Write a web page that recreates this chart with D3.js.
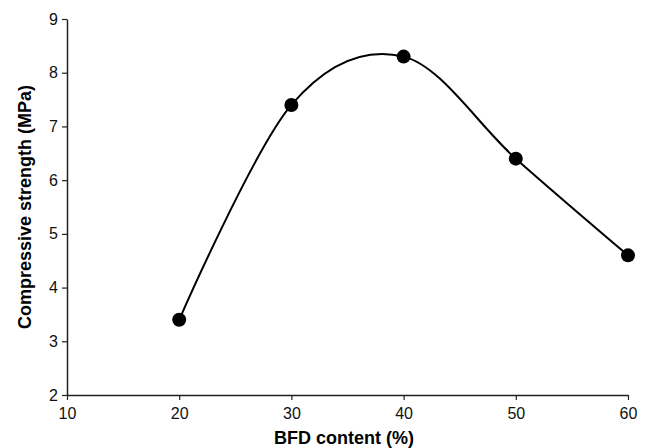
<!DOCTYPE html>
<html>
<head>
<meta charset="utf-8">
<script src="https://cdn.jsdelivr.net/npm/d3@7"></script>
<style>
  body { margin: 0; background: #fff; }
  svg { font-family: "Liberation Sans", Arial, sans-serif; }
</style>
</head>
<body>
<div id="chart"></div>
<script>
// data
const bfdContent = [20, 30, 40, 50, 60];
const strength = [3.4, 7.4, 8.3, 6.4, 4.6];
const xTicks = [10, 20, 30, 40, 50, 60];
const yTicks = [2, 3, 4, 5, 6, 7, 8, 9];

const width = 646, height = 448;
const margin = { top: 19, right: 18, bottom: 53, left: 67 };

const svg = d3.select("#chart").append("svg")
  .attr("width", width)
  .attr("height", height);

const x = d3.scaleLinear().domain([10, 60]).range([margin.left, width - margin.right]);
const y = d3.scaleLinear().domain([2, 9]).range([height - margin.bottom, margin.top]);

// axes
const xAxis = svg.append("g")
  .attr("transform", `translate(0,${height - margin.bottom})`)
  .call(d3.axisBottom(x).tickValues(xTicks).tickFormat(d3.format("d"))
    .tickSize(5).tickSizeOuter(0).tickPadding(8));

const yAxis = svg.append("g")
  .attr("transform", `translate(${margin.left},0)`)
  .call(d3.axisLeft(y).tickValues(yTicks).tickFormat(d3.format("d"))
    .tickSize(5).tickSizeOuter(0).tickPadding(4));

[xAxis, yAxis].forEach(g => {
  g.attr("font-size", 16).attr("font-family", "'Liberation Sans', Arial, sans-serif");
  g.select(".domain").attr("stroke", "#222").attr("stroke-width", 1.5);
  g.selectAll(".tick line").attr("stroke", "#222").attr("stroke-width", 1.2);
  g.selectAll(".tick text").attr("fill", "#111");
});

// smoothed line (Excel style)
const pts = bfdContent.map((d, i) => [d, strength[i]]);
const line = d3.line()
  .x(d => x(d[0]))
  .y(d => y(d[1]))
  .curve(d3.curveCardinal.tension(0));

svg.append("path")
  .datum(pts)
  .attr("d", line)
  .attr("fill", "none")
  .attr("stroke", "#000")
  .attr("stroke-width", 2);

svg.selectAll("circle.pt")
  .data(pts)
  .enter()
  .append("circle")
  .attr("class", "pt")
  .attr("cx", d => x(d[0]))
  .attr("cy", d => y(d[1]))
  .attr("r", 7)
  .attr("fill", "#000");

// axis titles
svg.append("text")
  .attr("x", 344)
  .attr("y", 444)
  .attr("text-anchor", "middle")
  .attr("font-size", "18px")
  .attr("font-weight", "bold")
  .text("BFD content (%)");

svg.append("text")
  .attr("transform", "rotate(-90)")
  .attr("x", -(margin.top + height - margin.bottom) / 2)
  .attr("y", 31)
  .attr("text-anchor", "middle")
  .attr("font-size", "18px")
  .attr("font-weight", "bold")
  .text("Compressive strength (MPa)");
</script>
</body>
</html>
